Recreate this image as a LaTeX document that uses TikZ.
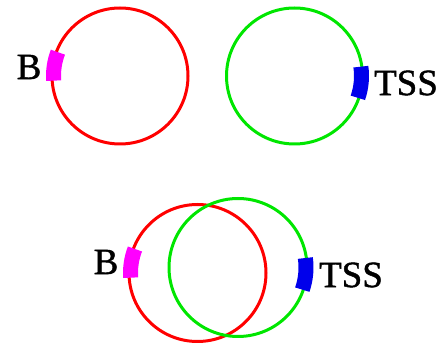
\documentclass[tikz,border=0pt]{standalone}
\usepackage{fontspec}
\setmainfont[FakeBold=1.2]{Liberation Serif}
\definecolor{cred}{RGB}{255,0,0}
\definecolor{cgreen}{RGB}{0,230,0}
\definecolor{cmag}{RGB}{255,0,255}
\definecolor{cblue}{RGB}{0,0,235}
\begin{document}
\begin{tikzpicture}[x=1pt,y=1pt,
  ring/.style={line width=3pt},
  site/.style={line width=15pt},
  lab/.style={font=\fontsize{37}{40}\selectfont, inner sep=0pt}]
\useasboundingbox (0,0) rectangle (445,345);
% top row
\coordinate (c1) at (120,269);
\coordinate (c2) at (294.5,269);
\draw[ring,cred] (c1) circle[radius=68];
\draw[ring,cgreen] (c2) circle[radius=68];
\draw[site,cmag] ([shift={(159:66.5)}]c1) arc[start angle=159,end angle=184,radius=66.5];
\draw[site,cblue] ([shift={(8:67)}]c2) arc[start angle=8,end angle=-19,radius=67];
\node[lab] (b1) at (29,278) {B};
\node[lab] (t1) at (406,262) {TSS};
% bottom
\coordinate (c3) at (197.5,72);
\coordinate (c4) at (238,77.5);
\draw[ring,cred] (c3) circle[radius=68.5];
\draw[ring,cgreen] (c4) circle[radius=69];
\draw[site,cmag] ([shift={(159:67)}]c3) arc[start angle=159,end angle=184,radius=67];
\draw[site,cblue] ([shift={(8:68)}]c4) arc[start angle=8,end angle=-19,radius=68];
\node[lab] (b2) at (106,83) {B};
\node[lab] (t2) at (351,70) {TSS};
\end{tikzpicture}
\end{document}
